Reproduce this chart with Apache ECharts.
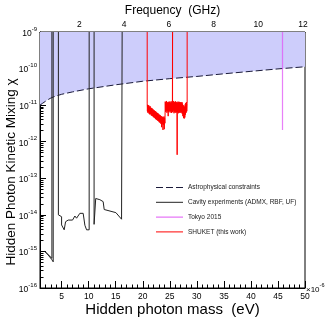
<!DOCTYPE html>
<html><head><meta charset="utf-8">
<script src="https://cdn.jsdelivr.net/npm/echarts@6/dist/echarts.min.js"></script>
<style>html,body{margin:0;padding:0;background:#fff}#c{width:332px;height:321px}</style>
</head><body><div id="c"></div>
<script>
// ---- data (mass in micro-eV, chi dimensionless) ----
const astroMass = [1, 1.5, 2, 2.5, 3, 3.5, 4, 5, 7, 10, 15, 20, 25, 30, 35, 40, 45, 50];
const astroChi = [1.0e-11, 1.13e-11, 1.27e-11, 1.42e-11, 1.56e-11, 1.68e-11, 1.78e-11, 1.98e-11, 2.3e-11, 2.8e-11, 3.6e-11, 4.5e-11, 5.3e-11, 6.1e-11, 7.2e-11, 8.4e-11, 9.8e-11, 1.12e-10];

const admx = [[3.2,1e-9],[3.2,6.5e-16],[1.9,1e-15],[2.51,8.0e-16],[2.83,7.2e-16],[3.14,6.1e-16],[3.44,5.2e-16],[3.44,1e-9]];
const rbf1 = [[4.4,1e-9],[4.4,1.0e-14],[4.55,1.0e-14],[4.99,8.9e-15],[4.99,5.3e-15],[5.29,4.8e-15],[5.47,3.9e-15],[5.73,6.5e-15],[6.21,7.2e-15],[6.52,8.1e-15],[7.02,7.2e-15],[7.45,9.3e-15],[7.76,8.1e-15],[8.37,1.1e-14],[8.69,1.2e-14],[8.98,1.1e-14],[9.30,5.2e-15],[9.61,3.9e-15],[10.09,3.9e-15],[10.09,1e-9]];
const rbf2 = [[11.0,1e-9],[11.0,5.5e-15],[11.3,5.5e-15],[11.3,2.8e-14],[12.07,2.6e-14],[12.68,2.3e-14],[12.87,1.4e-14],[13.18,1.5e-14],[15.03,1.15e-14],[15.16,1.03e-14],[16.08,7.6e-15],[16.19,7.6e-15],[16.19,1e-9]];

const tokyo2015 = [[45.84,1e-9],[45.84,2.1e-12]];

// SHUKET limit, including its vertical edges up to the top of the plot
const shuketLimit = [
 [20.82,1e-9],
 [20.82,1.08e-11],[20.86,6.8e-12],[20.90,1.02e-11],[20.95,6.2e-12],[21.00,9.6e-12],[21.05,6.5e-12],[21.10,1.0e-11],[21.15,5.9e-12],[21.22,9.1e-12],[21.28,5.6e-12],[21.35,9.4e-12],[21.42,5.7e-12],[21.48,8.6e-12],[21.55,5.3e-12],[21.62,8.3e-12],[21.68,5.1e-12],[21.75,8.1e-12],[21.82,5.0e-12],[21.90,7.7e-12],[21.96,4.7e-12],[22.03,7.3e-12],[22.10,4.6e-12],[22.17,7.1e-12],[22.24,4.4e-12],[22.30,6.9e-12],[22.37,4.2e-12],[22.44,6.6e-12],[22.50,4.0e-12],[22.58,6.3e-12],[22.65,3.9e-12],[22.72,6.1e-12],[22.80,3.7e-12],[22.86,5.9e-12],[22.93,3.6e-12],[23.00,5.6e-12],[23.07,3.4e-12],[23.14,5.4e-12],[23.21,3.3e-12],[23.28,5.2e-12],[23.35,3.1e-12],[23.42,5.0e-12],[23.48,2.5e-12],[23.55,4.9e-12],[23.62,3.0e-12],[23.68,4.7e-12],[23.74,2.1e-12],[23.80,4.6e-12],[23.86,2.9e-12],[23.92,4.9e-12],[23.98,2.2e-12],[24.04,4.5e-12],[24.10,3.2e-12],
 [24.16,1.25e-11],[24.22,6.6e-12],[24.28,1.2e-11],[24.34,7.0e-12],[24.40,1.3e-11],[24.46,6.2e-12],[24.52,1.15e-11],[24.58,6.8e-12],[24.64,1.22e-11],[24.70,5.0e-12],[24.76,1.18e-11],[24.82,6.5e-12],[24.88,1.26e-11],[24.94,7.0e-12],[25.00,1.2e-11],[25.06,6.3e-12],[25.12,1.17e-11],[25.18,6.9e-12],[25.24,1.28e-11],[25.30,6.1e-12],[25.36,1.2e-11],[25.42,6.7e-12],[25.48,1.24e-11],
 [25.51,1e-9],[25.51,1.2e-11],
 [25.54,6.4e-12],[25.60,1.16e-11],[25.66,7.1e-12],[25.72,1.3e-11],[25.78,6.0e-12],[25.84,1.2e-11],[25.90,6.6e-12],[25.96,1.22e-11],[26.02,6.2e-12],[26.08,1.27e-11],[26.14,6.8e-12],[26.20,1.18e-11],[26.26,6.3e-12],[26.32,1.21e-11],[26.36,4.4e-13],[26.40,1.15e-11],[26.46,6.5e-12],[26.52,1.25e-11],[26.58,6.0e-12],[26.64,1.19e-11],[26.70,6.9e-12],[26.76,1.23e-11],[26.82,6.2e-12],[26.88,1.17e-11],[26.94,6.6e-12],[27.00,1.2e-11],[27.06,6.1e-12],[27.12,1.14e-11],[27.18,6.4e-12],[27.24,1.22e-11],[27.30,5.8e-12],[27.36,1.1e-11],[27.42,5.0e-12],[27.48,1.0e-11],[27.54,4.5e-12],[27.60,9.5e-12],[27.66,4.3e-12],[27.72,9.0e-12],[27.78,4.6e-12],[27.84,1.05e-11],[27.90,5.5e-12],[27.96,1.15e-11],[28.02,6.2e-12],[28.08,1.2e-11],[28.14,6.8e-12],[28.21,1.1e-11],
 [28.21,1e-9]
];

// axis ticks
const massMin = 1, massMax = 50;
const massMajor = [5,10,15,20,25,30,35,40,45,50];
const massMinor = [2,3,4,6,7,8,9,11,12,13,14,16,17,18,19,21,22,23,24,26,27,28,29,31,32,33,34,36,37,38,39,41,42,43,44,46,47,48,49];
const freqMajor = [2,4,6,8,10,12];
const freqMinor = [0.6667,1.3333,2.6667,3.3333,4.6667,5.3333,6.6667,7.3333,8.6667,9.3333,10.6667,11.3333];
const GHZ_PER_UEV = 0.2417989;

const legendNames = ['Astrophysical constraints','Cavity experiments (ADMX, RBF, UF)','Tokyo 2015','SHUKET (this work)'];
const legendColors = ['#1a1a3a','#222222','#e055f5','#ff0000'];
const ICON_SOLID = 'path://M0,0H27V1H0Z';
const ICON_DASHED = 'path://M0,0H7V1H0ZM10,0H17V1H10ZM20,0H27V1H20Z';

const FF = 'Liberation Sans, Arial, sans-serif';
const chart = echarts.init(document.getElementById('c'), null, {renderer:'canvas'});

function lineSeries(name, data, style, extra) {
  return Object.assign({type:'line', name, data, xAxisIndex:0, yAxisIndex:0, symbol:'none', silent:true,
    connectNulls:false, lineStyle: style, itemStyle:{color: style.color}, animation:false}, extra || {});
}

const series = [
  lineSeries(legendNames[0], astroMass.map((m,i)=>[m, astroChi[i]]), {color:'#1a1a3a', width:1, type:[7,3]},
    {areaStyle:{origin:'end', color:'#cdcdfb', opacity:1}}),
  lineSeries(legendNames[1], [].concat(admx, [null], rbf1, [null], rbf2), {color:'#222222', width:1}),
  lineSeries(legendNames[2], tokyo2015, {color:'#e055f5', width:1.2, opacity:0.75}),
  lineSeries(legendNames[3], shuketLimit, {color:'#ff0000', width:1}),
];

const supRich = {b:{fontSize:8.5, fontFamily:FF, color:'#000', lineHeight:12, verticalAlign:'bottom'},
                 s:{fontSize:6, fontFamily:FF, color:'#000', lineHeight:6, verticalAlign:'top'}};
const supRichSmall = {b:{fontSize:8, fontFamily:FF, color:'#000', lineHeight:11, verticalAlign:'bottom'},
                 s:{fontSize:5.5, fontFamily:FF, color:'#000', lineHeight:6, verticalAlign:'top'}};

chart.setOption({
  animation:false,
  backgroundColor:'#fff',
  grid:{left:40, top:32, width:265, height:256, containLabel:false, outerBoundsMode:'none',
        show:true, borderColor:'#000', borderWidth:1, backgroundColor:'transparent'},
  legend:{orient:'vertical', left:151, top:179, itemWidth:27, itemHeight:8, itemGap:7.8, symbolKeepAspect:true,
    data:legendNames.map((n,i)=>({name:n, icon: i===0 ? ICON_DASHED : ICON_SOLID,
      itemStyle:{color:legendColors[i], opacity:1, borderWidth:0}})),
    textStyle:{fontSize:6.5, color:'#222', fontFamily:FF}, selectedMode:false},
  xAxis:[
    {type:'value', min:massMin, max:massMax, position:'bottom',
     axisLine:{show:true, onZero:false, lineStyle:{color:'#000', width:1}},
     axisTick:{show:true, inside:true, length:7, customValues:massMajor, lineStyle:{color:'#000'}},
     axisLabel:{show:true, customValues:massMajor, fontSize:8.5, fontFamily:FF, color:'#000', margin:4},
     splitLine:{show:false},
     name:'{b|×10}{s|-6}', nameLocation:'end', nameGap:1, nameMoveOverlap:false,
     nameTextStyle:{fontSize:8, fontFamily:FF, color:'#000', rich:supRichSmall, verticalAlign:'middle', align:'left'}},
    {type:'value', min:massMin, max:massMax, position:'bottom',
     axisLine:{show:false, onZero:false}, axisTick:{show:true, inside:true, length:3.5, customValues:massMinor, lineStyle:{color:'#000'}},
     axisLabel:{show:false}, splitLine:{show:false},
     name:'Hidden photon mass  (eV)', nameLocation:'middle', nameGap:14, nameMoveOverlap:false,
     nameTextStyle:{fontSize:15, fontFamily:FF, color:'#000'}},
    {type:'value', min:massMin*GHZ_PER_UEV, max:massMax*GHZ_PER_UEV, position:'top',
     axisLine:{show:true, onZero:false, lineStyle:{color:'#000'}},
     axisTick:{show:true, inside:true, length:7, customValues:freqMajor, lineStyle:{color:'#000'}},
     axisLabel:{show:true, customValues:freqMajor, fontSize:8.5, fontFamily:FF, color:'#000', margin:3},
     splitLine:{show:false},
     name:'Frequency  (GHz)', nameLocation:'middle', nameGap:15, nameMoveOverlap:false,
     nameTextStyle:{fontSize:12, fontFamily:FF, color:'#000'}},
    {type:'value', min:massMin*GHZ_PER_UEV, max:massMax*GHZ_PER_UEV, position:'top',
     axisLine:{show:false, onZero:false}, axisTick:{show:true, inside:true, length:3.5, customValues:freqMinor, lineStyle:{color:'#000'}},
     axisLabel:{show:false}, splitLine:{show:false}}
  ],
  yAxis:[
    {type:'log', logBase:10, min:1e-16, max:1e-9, position:'left', interval:1,
     axisLine:{show:true, onZero:false, lineStyle:{color:'#000'}},
     axisTick:{show:true, inside:true, length:6, lineStyle:{color:'#000'}},
     minorTick:{show:true, splitNumber:9, length:3.5, lineStyle:{color:'#000'}},
     axisLabel:{show:true, margin:3, rich:supRich,
       formatter: v => '{b|10}{s|' + Math.round(Math.log10(v)) + '}'},
     splitLine:{show:false}, minorSplitLine:{show:false},
     name:'Hidden Photon Kinetic Mixing χ', nameLocation:'middle', nameGap:22, nameMoveOverlap:false,
     nameTextStyle:{fontSize:13.5, fontFamily:FF, color:'#000', padding:[0,24,0,0]}}
  ],
  series
});
</script></body></html>
